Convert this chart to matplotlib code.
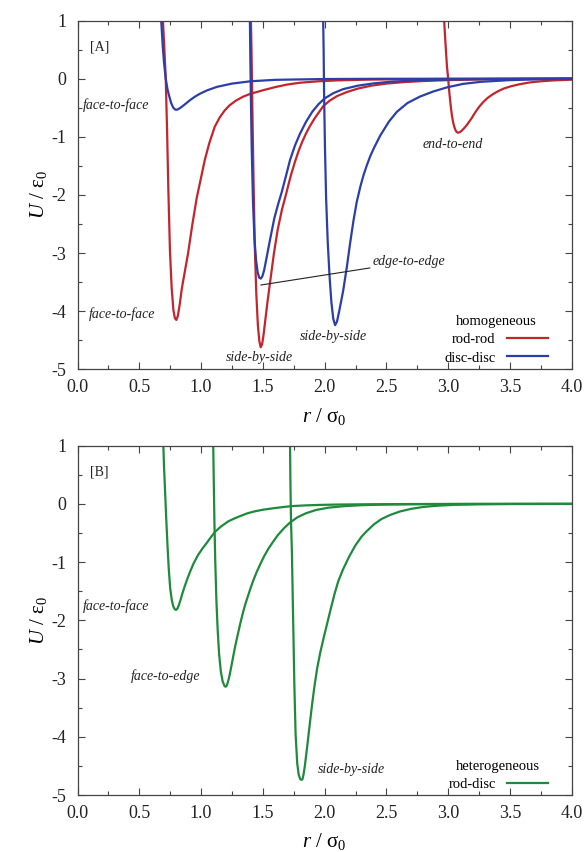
import matplotlib
matplotlib.use("Agg")
import matplotlib.pyplot as plt
from matplotlib.ticker import MultipleLocator

plt.rcParams['font.family'] = ['Liberation Serif', 'DejaVu Serif']
plt.rcParams['mathtext.fontset'] = 'custom'
plt.rcParams['mathtext.rm'] = 'Liberation Serif'
plt.rcParams['mathtext.it'] = 'Liberation Serif:italic'
plt.rcParams['axes.unicode_minus'] = False

RED = '#c3252d'
BLUE = '#2c3ea8'
GREEN = '#1f8a3c'
GREY = '#444444'

# ---- panel A : homogeneous pairs ----
rr_ff_r = [0.690, 0.702, 0.714, 0.725, 0.735, 0.748, 0.762, 0.776, 0.788, 0.800, 0.812,
           0.826, 0.845, 0.870, 0.895, 0.930, 0.965, 1.000, 1.030, 1.065, 1.110, 1.150,
           1.190, 1.230, 1.280, 1.340, 1.400, 1.500, 1.600, 1.700, 1.800, 1.950, 2.100,
           2.350, 2.600, 3.000, 3.500, 4.000]
rr_ff_u = [1.05, 0.55, 0.0, -0.9, -1.9, -2.95, -3.6, -3.98, -4.12, -4.15, -4.08,
           -3.9, -3.6, -3.3, -3.0, -2.5, -2.05, -1.7, -1.4, -1.12, -0.83, -0.67,
           -0.55, -0.46, -0.38, -0.31, -0.26, -0.2, -0.145, -0.1, -0.07, -0.045, -0.03,
           -0.017, -0.01, -0.005, -0.002, 0.0]

dd_ff_r = [0.676, 0.690, 0.700, 0.714, 0.728, 0.742, 0.758, 0.775, 0.790, 0.800, 0.815,
           0.840, 0.870, 0.910, 0.950, 0.990, 1.050, 1.130, 1.250, 1.400, 1.600, 2.000,
           2.500, 4.000]
dd_ff_u = [1.05, 0.55, 0.28, 0.0, -0.18, -0.30, -0.42, -0.50, -0.53, -0.535, -0.525,
           -0.49, -0.44, -0.37, -0.31, -0.26, -0.20, -0.14, -0.085, -0.045, -0.02, -0.006,
           -0.002, 0.0]

dd_ee_r = [1.395, 1.398, 1.403, 1.410, 1.420, 1.432, 1.445, 1.458, 1.470, 1.483, 1.496,
           1.510, 1.533, 1.560, 1.593, 1.625, 1.653, 1.690, 1.720, 1.760, 1.800, 1.850,
           1.900, 1.950, 2.000, 2.070, 2.150, 2.270, 2.400, 2.550, 2.750, 3.000, 3.300,
           3.650, 4.000]
dd_ee_u = [1.05, 0.5, -0.3, -1.2, -2.1, -2.75, -3.12, -3.33, -3.42, -3.44, -3.4,
           -3.3, -3.05, -2.75, -2.4, -2.15, -1.95, -1.65, -1.4, -1.15, -0.95, -0.74,
           -0.57, -0.44, -0.34, -0.25, -0.18, -0.12, -0.08, -0.05, -0.03, -0.015, -0.007,
           -0.003, 0.0]

rr_sbs_r = [1.403, 1.408, 1.415, 1.425, 1.435, 1.447, 1.460, 1.472, 1.483, 1.494, 1.505,
            1.520, 1.540, 1.565, 1.590, 1.620, 1.655, 1.690, 1.710, 1.730, 1.760, 1.790,
            1.820, 1.850, 1.880, 1.920, 1.960, 1.990, 2.040, 2.100, 2.180, 2.270, 2.380,
            2.500, 2.650, 2.800, 3.000, 3.300, 3.600, 4.000]
rr_sbs_u = [1.05, 0.5, -0.5, -1.8, -2.9, -3.7, -4.25, -4.52, -4.62, -4.57, -4.42,
            -4.15, -3.8, -3.4, -3.0, -2.6, -2.25, -1.97, -1.8, -1.64, -1.43, -1.24,
            -1.08, -0.94, -0.82, -0.68, -0.56, -0.47, -0.38, -0.3, -0.23, -0.17, -0.12,
            -0.085, -0.058, -0.04, -0.025, -0.012, -0.006, -0.002]

dd_sbs_r = [1.988, 1.992, 1.996, 2.003, 2.012, 2.025, 2.040, 2.055, 2.070, 2.085, 2.100,
            2.120, 2.150, 2.180, 2.205, 2.233, 2.260, 2.290, 2.315, 2.340, 2.370, 2.400,
            2.450, 2.520, 2.585, 2.670, 2.770, 2.880, 2.990, 3.120, 3.260, 3.500, 3.750,
            4.000]
dd_sbs_u = [1.05, 0.5, -0.3, -1.2, -2.05, -2.8, -3.4, -3.85, -4.13, -4.24, -4.18,
            -3.98, -3.65, -3.24, -2.85, -2.45, -2.12, -1.85, -1.66, -1.5, -1.33, -1.19,
            -0.98, -0.74, -0.57, -0.42, -0.31, -0.22, -0.15, -0.09, -0.055, -0.025, -0.01,
            -0.003]

rr_ee_r = [2.966, 2.980, 2.990, 3.000, 3.010, 3.020, 3.030, 3.040, 3.050, 3.060, 3.070,
           3.080, 3.095, 3.110, 3.130, 3.150, 3.170, 3.190, 3.210, 3.235, 3.260, 3.290,
           3.320, 3.360, 3.400, 3.450, 3.510, 3.580, 3.660, 3.750, 3.850, 4.000]
rr_ee_u = [1.05, 0.55, 0.22, 0.0, -0.25, -0.45, -0.63, -0.75, -0.83, -0.89, -0.92,
           -0.93, -0.92, -0.895, -0.85, -0.8, -0.74, -0.68, -0.61, -0.53, -0.46, -0.39,
           -0.33, -0.27, -0.22, -0.17, -0.13, -0.095, -0.065, -0.045, -0.03, -0.017]

# ---- panel B : heterogeneous rod-disc ----
rd_ff_r = [0.694, 0.700, 0.708, 0.718, 0.728, 0.738, 0.750, 0.763, 0.775, 0.787, 0.797,
           0.808, 0.820, 0.835, 0.850, 0.870, 0.890, 0.910, 0.940, 0.975, 1.010, 1.046,
           1.080, 1.113, 1.160, 1.220, 1.270, 1.316, 1.370, 1.430, 1.500, 1.585, 1.660,
           1.740, 1.850, 1.950, 2.100, 2.300, 2.550, 2.800, 3.400, 4.000]
rd_ff_u = [1.05, 0.65, 0.25, -0.25, -0.7, -1.1, -1.45, -1.65, -1.76, -1.81, -1.82,
           -1.8, -1.74, -1.64, -1.53, -1.4, -1.28, -1.17, -1.02, -0.88, -0.77, -0.67,
           -0.57, -0.48, -0.39, -0.3, -0.25, -0.21, -0.165, -0.13, -0.1, -0.075, -0.055,
           -0.037, -0.025, -0.018, -0.011, -0.007, -0.004, -0.002, 0.0, 0.0]

rd_fe_r = [1.098, 1.102, 1.108, 1.115, 1.124, 1.134, 1.146, 1.160, 1.175, 1.190, 1.200,
           1.210, 1.220, 1.232, 1.245, 1.260, 1.275, 1.289, 1.305, 1.320, 1.340, 1.360,
           1.380, 1.397, 1.420, 1.450, 1.480, 1.510, 1.545, 1.580, 1.620, 1.670, 1.720,
           1.780, 1.850, 1.930, 2.030, 2.150, 2.300, 2.500, 2.800, 3.200, 4.000]
rd_fe_u = [1.05, 0.5, -0.3, -1.0, -1.65, -2.15, -2.58, -2.88, -3.05, -3.13, -3.14,
           -3.11, -3.04, -2.93, -2.79, -2.62, -2.46, -2.32, -2.17, -2.03, -1.86, -1.71,
           -1.58, -1.47, -1.33, -1.17, -1.03, -0.9, -0.77, -0.66, -0.54, -0.42, -0.32,
           -0.23, -0.16, -0.105, -0.065, -0.04, -0.022, -0.011, -0.004, -0.001, 0.0]

rd_sbs_r = [1.720, 1.723, 1.728, 1.735, 1.745, 1.755, 1.765, 1.778, 1.790, 1.803, 1.815,
            1.822, 1.830, 1.840, 1.860, 1.880, 1.900, 1.920, 1.940, 1.965, 1.990, 2.020,
            2.050, 2.080, 2.110, 2.150, 2.200, 2.250, 2.300, 2.340, 2.400, 2.460, 2.530,
            2.610, 2.700, 2.800, 2.920, 3.050, 3.250, 3.500, 4.000]
rd_sbs_u = [1.05, 0.4, -0.3, -0.8, -1.95, -3.1, -3.95, -4.45, -4.65, -4.73, -4.74,
            -4.72, -4.64, -4.5, -4.15, -3.78, -3.42, -3.1, -2.82, -2.55, -2.32, -2.06,
            -1.8, -1.55, -1.33, -1.12, -0.9, -0.71, -0.56, -0.47, -0.35, -0.26, -0.19,
            -0.13, -0.085, -0.052, -0.03, -0.016, -0.007, -0.002, 0.0]

X_TICKS = [0.0, 0.5, 1.0, 1.5, 2.0, 2.5, 3.0, 3.5, 4.0]
X_TICK_LABELS = ['0.0', '0.5', '1.0', '1.5', '2.0', '2.5', '3.0', '3.5', '4.0']
Y_TICKS = [1, 0, -1, -2, -3, -4, -5]
Y_TICK_LABELS = ['1', '0', '-1', '-2', '-3', '-4', '-5']

LW = 1.6
NOTE = dict(fontsize=10, style='italic', color='#222222')

fig = plt.figure(figsize=(5.86, 8.52), dpi=100)
ax_a = fig.add_axes([0.1323, 0.5665, 0.8433, 0.4094])
ax_b = fig.add_axes([0.1323, 0.0669, 0.8433, 0.4100])


def style_axes(ax):
    ax.set_xlim(0.0, 4.0)
    ax.set_ylim(-5, 1)
    ax.set_xticks(X_TICKS)
    ax.set_xticklabels(X_TICK_LABELS)
    ax.set_yticks(Y_TICKS)
    ax.set_yticklabels(Y_TICK_LABELS)
    ax.xaxis.set_minor_locator(MultipleLocator(0.25))
    ax.yaxis.set_minor_locator(MultipleLocator(0.5))
    ax.tick_params(which='both', direction='in', top=True, right=True,
                   color=GREY, width=0.8)
    ax.tick_params(which='major', length=5, labelsize=13, labelcolor='#222222')
    ax.tick_params(axis='x', which='major', pad=7)
    ax.tick_params(axis='y', which='major', pad=8)
    ax.tick_params(which='minor', length=3)
    for s in ax.spines.values():
        s.set_color(GREY)
        s.set_linewidth(0.9)
    ax.set_xlabel(r'$r$ / σ$_0$', fontsize=15, labelpad=7)
    ax.set_ylabel(r'$U$ / ε$_0$', fontsize=15, labelpad=2)


# panel A
ax_a.plot(rr_ff_r, rr_ff_u, color=RED, lw=LW, label='rod-rod')
ax_a.plot(rr_sbs_r, rr_sbs_u, color=RED, lw=LW)
ax_a.plot(rr_ee_r, rr_ee_u, color=RED, lw=LW)
ax_a.plot(dd_ff_r, dd_ff_u, color=BLUE, lw=LW, label='disc-disc')
ax_a.plot(dd_ee_r, dd_ee_u, color=BLUE, lw=LW)
ax_a.plot(dd_sbs_r, dd_sbs_u, color=BLUE, lw=LW)
style_axes(ax_a)

ax_a.text(0.10, 0.55, '[A]', fontsize=10, color='#222222', va='center')
ax_a.text(0.31, -0.45, 'face-to-face', ha='center', va='center', **NOTE)
ax_a.text(0.36, -4.05, 'face-to-face', ha='center', va='center', **NOTE)
ax_a.text(1.47, -4.79, 'side-by-side', ha='center', va='center', **NOTE)
ax_a.text(2.07, -4.44, 'side-by-side', ha='center', va='center', **NOTE)
ax_a.text(3.04, -1.14, 'end-to-end', ha='center', va='center', **NOTE)
ax_a.annotate('edge-to-edge', xy=(1.483, -3.55), xytext=(2.39, -3.15),
              ha='left', va='center',
              arrowprops=dict(arrowstyle='-', color='#222222', lw=0.8,
                              shrinkA=0, shrinkB=0), **NOTE)
leg = ax_a.legend(title='homogeneous', loc='lower right', bbox_to_anchor=(0.979, -0.024),
                  frameon=False, markerfirst=False, fontsize=10.5, title_fontsize=10.5,
                  handlelength=2.8, handletextpad=0.8, labelspacing=0.35)
leg._legend_box.align = 'center'

# panel B
ax_b.plot(rd_ff_r, rd_ff_u, color=GREEN, lw=LW, label='rod-disc')
ax_b.plot(rd_fe_r, rd_fe_u, color=GREEN, lw=LW)
ax_b.plot(rd_sbs_r, rd_sbs_u, color=GREEN, lw=LW)
style_axes(ax_b)

ax_b.text(0.10, 0.54, '[B]', fontsize=10, color='#222222', va='center')
ax_b.text(0.31, -1.75, 'face-to-face', ha='center', va='center', **NOTE)
ax_b.text(0.71, -2.96, 'face-to-edge', ha='center', va='center', **NOTE)
ax_b.text(2.215, -4.555, 'side-by-side', ha='center', va='center', **NOTE)
leg_b = ax_b.legend(title='heterogeneous', loc='lower right', bbox_to_anchor=(0.979, -0.026),
                    frameon=False, markerfirst=False, fontsize=10.5, title_fontsize=10.5,
                    handlelength=2.8, handletextpad=0.8, labelspacing=0.35)
leg_b._legend_box.align = 'center'

fig.savefig('out.png', dpi=100)
